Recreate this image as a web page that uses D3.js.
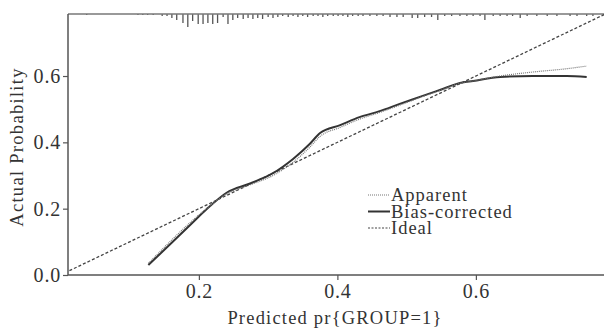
<!DOCTYPE html>
<html><head><meta charset="utf-8">
<script src="https://cdn.jsdelivr.net/npm/d3@7"></script>
<style>html,body{margin:0;padding:0;background:#fff}</style>
</head><body>
<svg id="c" width="604" height="329"></svg>
<script>
const xTicks = [0.2, 0.4, 0.6];
const yTicks = [0.0, 0.2, 0.4, 0.6];
const xTitle = "Predicted pr{GROUP=1}";
const yTitle = "Actual Probability";
const legendLabels = ["Apparent", "Bias-corrected", "Ideal"];

const apparentX = [0.127,0.211,0.240,0.274,0.307,0.336,0.360,0.375,0.404,0.432,0.461,0.490,0.519,0.548,0.577,0.596,0.635,0.682,0.731,0.760];
const apparentY = [0.035,0.200,0.245,0.272,0.300,0.340,0.385,0.418,0.445,0.470,0.490,0.512,0.535,0.556,0.578,0.585,0.600,0.612,0.622,0.630];
const biasX = [0.127,0.160,0.190,0.211,0.240,0.274,0.307,0.336,0.360,0.375,0.404,0.432,0.461,0.490,0.519,0.548,0.577,0.596,0.635,0.682,0.731,0.760];
const biasY = [0.030,0.096,0.156,0.198,0.248,0.276,0.307,0.350,0.395,0.428,0.452,0.476,0.494,0.516,0.537,0.558,0.579,0.585,0.597,0.600,0.600,0.597];
const idealX = [0.0, 0.79];
const idealY = [0.0, 0.79];

const rugX = [0.038,0.112,0.119,0.126,0.134,0.147,0.154,0.161,0.168,0.177,0.184,0.191,0.199,0.206,0.213,0.220,0.227,0.235,0.242,0.249,0.256,0.264,0.271,0.278,0.285,0.292,0.300,0.307,0.314,0.321,0.329,0.336,0.343,0.350,0.357,0.365,0.372,0.379,0.386,0.394,0.401,0.408,0.415,0.422,0.430,0.437,0.447,0.457,0.466,0.476,0.486,0.495,0.508,0.516,0.526,0.536,0.545,0.555,0.565,0.577,0.587,0.596,0.606,0.613,0.625,0.635,0.645,0.653,0.664,0.674,0.688,0.703,0.717,0.736,0.746,0.760,0.769];
const rugN = [1,1,1,1,1,2,2,4,6,9,13,7,10,10,9,10,9,3,10,6,4,5,4,5,4,5,3,4,3,2,3,2,3,2,3,2,2,3,2,2,2,2,3,2,2,2,2,2,2,3,3,3,4,4,3,3,6,2,2,2,2,2,2,6,2,2,2,2,4,2,2,2,2,2,2,2,2];

const svg = d3.select("#c");
const L = 68, R = 604, T = 14, B = 275;
const x = d3.scaleLinear().domain([0.011, 0.785]).range([L, R]);
const y = d3.scaleLinear().domain([0.0, 0.787]).range([B, T]);
const font = "'Liberation Serif','Times New Roman',serif";
const txt = "#333";

svg.append("defs").append("clipPath").attr("id","clip")
  .append("rect").attr("x",L).attr("y",T).attr("width",R-L).attr("height",B-T);

// rug / spike histogram along top
const h = d3.scaleLinear().domain([0, 13]).range([0, 13]);
svg.append("g").selectAll("line").data(rugX).join("line")
  .attr("x1", d => x(d)).attr("x2", d => x(d))
  .attr("y1", T).attr("y2", (d,i) => T + h(rugN[i]))
  .attr("stroke", "#555").attr("stroke-width", 1.3);

// top border
svg.append("line").attr("x1",L).attr("x2",R).attr("y1",T).attr("y2",T)
  .attr("stroke","#777").attr("stroke-width",1.5);

// axes
const xAxis = d3.axisBottom(x).tickValues(xTicks).tickFormat(d3.format(".1f")).tickSizeOuter(0).tickSize(5);
const gx = svg.append("g").attr("transform",`translate(0,${B})`).call(xAxis);
gx.select(".domain").attr("d", `M${L},0H${R}`).attr("stroke","#555").attr("stroke-width",1.5);
gx.selectAll(".tick line").attr("stroke","#555").attr("stroke-width",1.2);
gx.selectAll(".tick text").attr("font-family",font).attr("font-size",20).attr("letter-spacing",0.8).attr("fill",txt).attr("dy","0.9em").attr("y",5);

const yAxis = d3.axisLeft(y).tickValues(yTicks).tickFormat(d3.format(".1f")).tickSizeOuter(0).tickSize(5);
const gy = svg.append("g").attr("transform",`translate(${L},0)`).call(yAxis);
gy.select(".domain").attr("d", `M0,${T}V${B}`).attr("stroke","#555").attr("stroke-width",1.5);
gy.selectAll(".tick line").attr("stroke","#555").attr("stroke-width",1.2);
gy.selectAll(".tick text").attr("font-family",font).attr("font-size",20).attr("letter-spacing",0.8).attr("fill",txt).attr("x",-7);

svg.append("text").attr("x", 335).attr("y", 324).attr("text-anchor","middle")
  .attr("font-family",font).attr("font-size",18.5).attr("letter-spacing",1.2).attr("fill",txt).text(xTitle);
svg.append("text").attr("transform",`translate(23,147) rotate(-90)`).attr("text-anchor","middle")
  .attr("font-family",font).attr("font-size",18.5).attr("letter-spacing",1.3).attr("fill",txt).text(yTitle);

// lines
const line = d3.line().x(d => x(d[0])).y(d => y(d[1]));
const gl = svg.append("g").attr("clip-path","url(#clip)");
gl.append("path").datum(idealX.map((v,i)=>[v, idealY[i]])).attr("d", line)
  .attr("fill","none").attr("stroke","#444").attr("stroke-width",1.3).attr("stroke-dasharray","3,2");
const smooth = d3.line().curve(d3.curveMonotoneX).x(d => x(d[0])).y(d => y(d[1]));
gl.append("path").datum(biasX.map((v,i)=>[v, biasY[i]])).attr("d", smooth)
  .attr("fill","none").attr("stroke","#333").attr("stroke-width",2);
gl.append("path").datum(apparentX.map((v,i)=>[v, apparentY[i]])).attr("d", smooth)
  .attr("fill","none").attr("stroke","#777").attr("stroke-width",1.2).attr("stroke-dasharray","1,1");

// legend
const lg = svg.append("g");
const ly = [195, 211.5, 228];
const styles = [
  {s:"#777", w:1.2, d:"1,1"},
  {s:"#333", w:2, d:null},
  {s:"#444", w:1.2, d:"2,1.5"}
];
legendLabels.forEach((lab,i) => {
  lg.append("line").attr("x1",368).attr("x2",390).attr("y1",ly[i]).attr("y2",ly[i])
    .attr("stroke",styles[i].s).attr("stroke-width",styles[i].w).attr("stroke-dasharray",styles[i].d);
  lg.append("text").attr("x",391).attr("y",ly[i]).attr("dy","0.35em")
    .attr("font-family",font).attr("font-size",18.5).attr("letter-spacing",1.0).attr("fill",txt).text(lab);
});
</script>
</body></html>
